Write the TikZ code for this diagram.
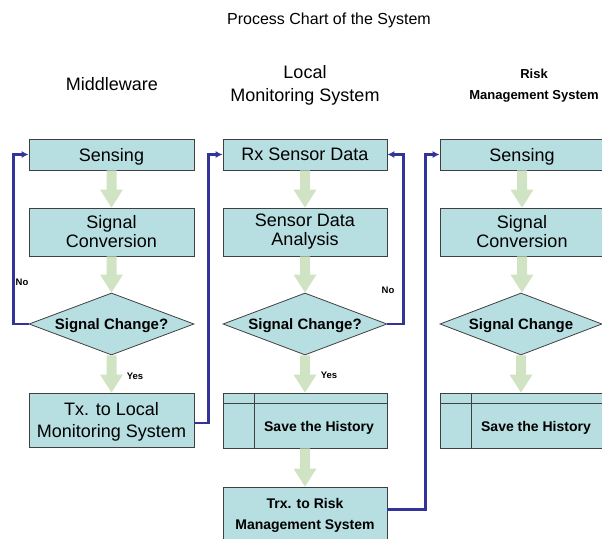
\documentclass[tikz,border=0pt]{standalone}
\usepackage{fontspec}
\setmainfont{Liberation Sans}
\usetikzlibrary{shapes.geometric,calc,arrows.meta}
\definecolor{boxfill}{RGB}{183,222,224}
\definecolor{bordc}{RGB}{64,64,64}
\definecolor{garrc}{RGB}{208,228,196}
\definecolor{loopblue}{RGB}{51,51,153}
\newcommand\GreenArr[2]{\fill[garrc] let \p1=(#1.south), \p2=(#2.north) in
  (\x1-5pt,\y1) -- (\x1-5pt,\y2+18pt) -- (\x1-11.5pt,\y2+18pt) -- (\x1,\y2)
  -- (\x1+11.5pt,\y2+18pt) -- (\x1+5pt,\y2+18pt) -- (\x1+5pt,\y1) -- cycle;}
\begin{document}
\begin{tikzpicture}[x=1pt,y=-1pt,
  box/.style={draw=bordc, fill=boxfill, line width=0.8pt, rectangle, inner sep=0pt, align=center, font=\fontsize{18}{19}\selectfont},
  dia/.style={draw=bordc, fill=boxfill, line width=0.8pt, diamond, inner sep=0pt, minimum width=164pt, minimum height=62pt},
  dtext/.style={font=\bfseries\fontsize{15}{17}\selectfont, inner sep=0pt, text depth=0pt},
  stext/.style={font=\bfseries\fontsize{14}{16}\selectfont, inner sep=0pt, text depth=0pt},
  lbl/.style={font=\bfseries\fontsize{9.5}{10}\selectfont, inner sep=0pt},
  headn/.style={font=\fontsize{18}{23}\selectfont, align=center, inner sep=0pt},
  headb/.style={font=\bfseries\fontsize{13}{21}\selectfont, align=center, inner sep=0pt},
  loopline/.style={draw=loopblue, line width=2.4pt, -{Latex[length=7pt,width=7pt]}}
]
\clip (0,0) rectangle (602,538);
\useasboundingbox (0,0) rectangle (602,538);

% headings
\node[font=\fontsize{16}{18}\selectfont, inner sep=0pt] (title) at (329,20) {Process Chart of the System};
\node[headn] (hm) at (112,84) {Middleware};
\node[headn] (hl) at (305,85) {Local\\Monitoring System};
\node[headb] (hr) at (534,86) {Risk\\Management System};

% Middleware column
\node[box, minimum width=165pt, minimum height=31pt, text depth=0pt] (m1) at (111.5,154.5) {Sensing};
\node[box, minimum width=165pt, minimum height=48pt] (m2) at (111.5,232) {Signal\\Conversion};
\node[dia, minimum width=165pt] (m3) at (111.5,324) {};
\node[dtext] (m3t) at (m3) {Signal Change?};
\node[box, minimum width=165pt, minimum height=54pt, text depth=0pt, font=\fontsize{18}{22}\selectfont] (m4) at (111.5,420) {Tx. to Local\\Monitoring System};

% Local Monitoring column
\node[box, minimum width=164pt, minimum height=31pt] (l1) at (305,154.5) {Rx Sensor Data};
\node[box, minimum width=164pt, minimum height=48pt] (l2) at (305,232) {Sensor Data\\Analysis};
\node[dia] (l3) at (305,324) {};
\node[dtext] (l3t) at (l3) {Signal Change?};
\node[box, minimum width=164pt, minimum height=55pt] (l4) at (305,420.5) {};
\draw[bordc, line width=0.8pt] ($(l4.north west)+(0,11)$) -- ($(l4.north east)+(0,11)$);
\draw[bordc, line width=0.8pt] ($(l4.north west)+(32,0)$) -- ($(l4.south west)+(32,0)$);
\node[stext] (l4t) at (319,426) {Save the History};
\node[box, minimum width=164pt, minimum height=53pt, text depth=0pt, font=\bfseries\fontsize{14}{21}\selectfont] (l5) at (305,513.5) {Trx. to Risk\\Management System};

% Risk Management column
\node[box, minimum width=164pt, minimum height=31pt, text depth=0pt] (r1) at (522,154.5) {Sensing};
\node[box, minimum width=164pt, minimum height=48pt] (r2) at (522,232) {Signal\\Conversion};
\node[dia, minimum width=162pt] (r3) at (521,324) {};
\node[dtext] (r3t) at (r3) {Signal Change};
\node[box, minimum width=164pt, minimum height=55pt] (r4) at (522,420.5) {};
\draw[bordc, line width=0.8pt] ($(r4.north west)+(0,11)$) -- ($(r4.north east)+(0,11)$);
\draw[bordc, line width=0.8pt] ($(r4.north west)+(32,0)$) -- ($(r4.south west)+(32,0)$);
\node[stext] (r4t) at (536,426) {Save the History};

% green flow arrows
\GreenArr{m1}{m2}
\GreenArr{m2}{m3}
\GreenArr{m3}{m4}
\GreenArr{l1}{l2}
\GreenArr{l2}{l3}
\GreenArr{l3}{l4}
\GreenArr{l4}{l5}
\GreenArr{r1}{r2}
\GreenArr{r2}{r3}
\GreenArr{r3}{r4}

% blue loop connectors
\draw[loopline] (m3.west) -- ++(-15,0) |- (m1.west);
\draw[loopline] ([yshift=-3pt]m4.east) -- ++(14,0) |- (l1.west);
\draw[loopline] (l3.east) -- ++(16,0) |- (l1.east);
\draw[loopline] ([yshift=4pt]l5.east) -- ++(38,0) |- (r1.west);

% labels
\node[lbl] (no1) at (22,282) {No};
\node[lbl] (yes1) at (135,376) {Yes};
\node[lbl] (no2) at (388,290) {No};
\node[lbl] (yes2) at (329,375) {Yes};
\end{tikzpicture}
\end{document}
